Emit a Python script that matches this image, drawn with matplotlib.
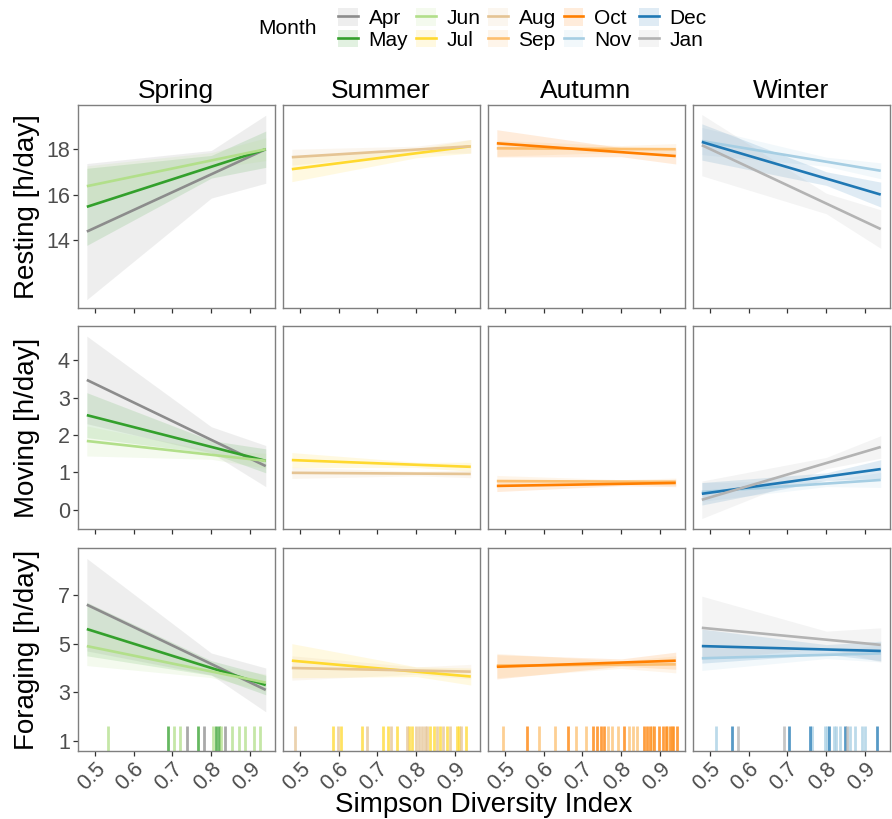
import numpy as np
import matplotlib
matplotlib.use("Agg")
import matplotlib.pyplot as plt
from matplotlib.patches import Patch
from matplotlib.lines import Line2D

plt.rcParams['font.family'] = ['Liberation Sans', 'DejaVu Sans']

months = ['Apr', 'May', 'Jun', 'Jul', 'Aug', 'Sep', 'Oct', 'Nov', 'Dec', 'Jan']
month_season = ['Spring', 'Spring', 'Spring', 'Summer', 'Summer', 'Autumn',
                'Autumn', 'Winter', 'Winter', 'Winter']
month_colors = ['#8c8c8c', '#33a02c', '#b2df8a', '#ffd92f', '#e5c494', '#fdbf6f',
                '#ff7f00', '#a6cee3', '#1f78b4', '#b3b3b3']
seasons = ['Spring', 'Summer', 'Autumn', 'Winter']
behaviours = ['Resting [h/day]', 'Moving [h/day]', 'Foraging [h/day]']

x_start, x_end = 0.48, 0.94
band_x = [0.48, 0.80, 0.94]

# fitted value at x_start / x_end, and CI half-width at band_x
resting_y0 = [14.37, 15.46, 16.37, 17.12, 17.65, 18.04, 18.26, 18.36, 18.32, 18.18]
resting_y1 = [18.0, 18.0, 18.0, 18.13, 18.13, 18.0, 17.7, 17.05, 16.0, 14.48]
resting_w = [[3.0, 1.05, 1.5], [1.7, 0.5, 0.8], [0.9, 0.35, 0.5], [0.55, 0.2, 0.3],
             [0.35, 0.15, 0.3], [0.35, 0.15, 0.25], [0.6, 0.2, 0.35], [0.6, 0.2, 0.35],
             [0.8, 0.3, 0.55], [1.35, 0.45, 0.85]]

moving_y0 = [3.47, 2.53, 1.84, 1.33, 0.99, 0.77, 0.64, 0.48, 0.43, 0.27]
moving_y1 = [1.17, 1.31, 1.31, 1.15, 0.96, 0.75, 0.72, 0.80, 1.09, 1.68]
moving_w = [[1.17, 0.35, 0.55], [0.6, 0.17, 0.32], [0.4, 0.12, 0.2], [0.2, 0.07, 0.12],
            [0.15, 0.06, 0.1], [0.15, 0.05, 0.1], [0.15, 0.05, 0.1], [0.25, 0.08, 0.2],
            [0.3, 0.1, 0.25], [0.5, 0.15, 0.3]]

foraging_y0 = [6.6, 5.6, 4.9, 4.3, 4.0, 4.1, 4.05, 4.4, 4.9, 5.65]
foraging_y1 = [3.1, 3.3, 3.4, 3.65, 3.85, 4.15, 4.3, 4.6, 4.7, 4.95]
foraging_w = [[1.9, 0.45, 0.9], [1.1, 0.3, 0.4], [0.8, 0.25, 0.35], [0.7, 0.2, 0.35],
              [0.5, 0.15, 0.3], [0.5, 0.15, 0.35], [0.5, 0.15, 0.35], [0.5, 0.15, 0.35],
              [0.7, 0.2, 0.4], [1.3, 0.35, 0.7]]

y0_all = [resting_y0, moving_y0, foraging_y0]
y1_all = [resting_y1, moving_y1, foraging_y1]
w_all = [resting_w, moving_w, foraging_w]

row_ylims = [(11.0, 19.95), (-0.51, 4.91), (0.59, 8.93)]
row_yticks = [[14, 16, 18], [0, 1, 2, 3, 4], [1, 3, 5, 7]]

# observed Simpson index per month (rug)
rug_x = {
    'Apr': [0.738, 0.781, 0.836],
    'May': [0.689, 0.766, 0.812, 0.819],
    'Jun': [0.534, 0.705, 0.720, 0.805, 0.825, 0.853, 0.870, 0.886, 0.911, 0.924],
    'Jul': [0.586, 0.607, 0.661, 0.714, 0.727, 0.751, 0.780, 0.790, 0.834, 0.845,
            0.860, 0.880, 0.904, 0.910, 0.929],
    'Aug': [0.488, 0.599, 0.672, 0.736, 0.775, 0.798, 0.806, 0.814, 0.822, 0.828,
            0.854, 0.868, 0.886, 0.916],
    'Sep': [0.497, 0.588, 0.629, 0.684, 0.708, 0.767, 0.775, 0.792, 0.819, 0.830,
            0.841, 0.879, 0.917, 0.930],
    'Oct': [0.557, 0.663, 0.728, 0.737, 0.747, 0.756, 0.806, 0.858, 0.866, 0.875,
            0.883, 0.896, 0.908, 0.916, 0.925, 0.934, 0.942],
    'Nov': [0.517, 0.762, 0.796, 0.802, 0.819, 0.825, 0.835, 0.862, 0.873, 0.893, 0.900],
    'Dec': [0.557, 0.704, 0.757, 0.806, 0.847, 0.931],
    'Jan': [0.573, 0.692, 0.853],
}

W, H = 892, 819
fig = plt.figure(figsize=(W / 100, H / 100), dpi=100)

col_left = [77.5, 282.5, 487.5, 692.5]
row_top = [105, 326, 548]
pw, ph = 197, 203

tick_col = '#4d4d4d'
for r in range(3):
    for c in range(4):
        ax = fig.add_axes([col_left[c] / W, 1 - (row_top[r] + ph) / H, pw / W, ph / H])
        for i, m in enumerate(months):
            if month_season[i] != seasons[c]:
                continue
            col = month_colors[i]
            y0, y1 = y0_all[r][i], y1_all[r][i]
            fit = np.interp(band_x, [x_start, x_end], [y0, y1])
            w = np.array(w_all[r][i])
            ax.fill_between(band_x, fit - w, fit + w, color=col, alpha=0.14, lw=0)
            ax.plot([x_start, x_end], [y0, y1], color=col, lw=1.9, solid_capstyle='butt')
            if r == 2:
                ax.vlines(rug_x[m], 0, 0.123, transform=ax.get_xaxis_transform(),
                          color=col, lw=2.0, alpha=0.75)
        ax.set_xlim(0.456, 0.9625)
        ax.set_ylim(*row_ylims[r])
        ax.set_xticks([0.5, 0.6, 0.7, 0.8, 0.9])
        for s in ax.spines.values():
            s.set_color('#7f7f7f')
            s.set_linewidth(1.0)
        ax.tick_params(axis='both', colors='#333333', length=3.5, width=0.9,
                       labelsize=15.5, labelcolor=tick_col, pad=2)
        if r == 2:
            ax.set_xticklabels(['0.5', '0.6', '0.7', '0.8', '0.9'], rotation=45,
                               ha='right', rotation_mode='anchor')
        else:
            ax.set_xticklabels([])
        if c == 0:
            ax.set_yticks(row_yticks[r])
        else:
            ax.set_yticks([])
        if r == 0:
            ax.set_title(seasons[c], fontsize=19, pad=5)

for r in range(3):
    yc = 1 - (row_top[r] + ph / 2) / H
    fig.text(27 / W, yc, behaviours[r], rotation=90, ha='center', va='center', fontsize=20)

fig.text((77.5 + 889.5) / 2 / W, 1 - 805 / H, 'Simpson Diversity Index',
         ha='center', va='center', fontsize=20)

# legend: 5 columns, Apr/May, Jun/Jul, ...
handles = []
for i, m in enumerate(months):
    handles.append((Patch(facecolor=month_colors[i], alpha=0.14, lw=0),
                    Line2D([0], [0], color=month_colors[i], lw=1.9)))
fig.legend(handles, months, ncol=5, loc='center left',
           bbox_to_anchor=(328 / W, 1 - 29 / H), frameon=False, fontsize=15,
           handlelength=0.95, handleheight=0.95, handletextpad=0.5, columnspacing=0.38,
           labelspacing=0.05, borderpad=0)
fig.text(258 / W, 1 - 29 / H, 'Month', ha='left', va='center', fontsize=15)

fig.savefig('out.png', dpi=100)
